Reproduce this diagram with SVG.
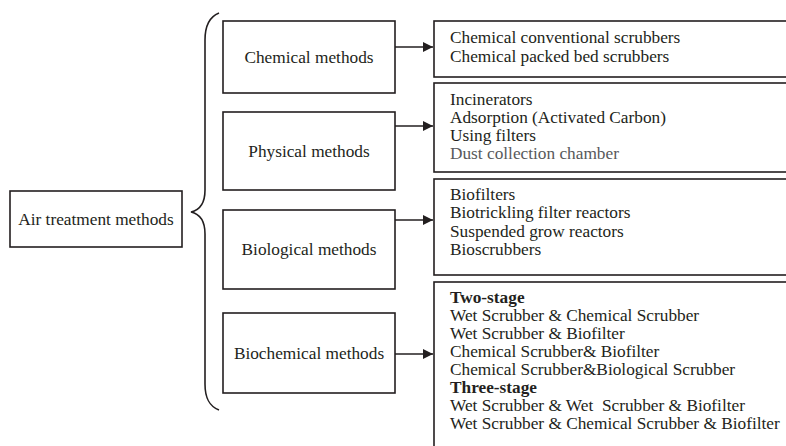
<svg xmlns="http://www.w3.org/2000/svg" width="786" height="446" viewBox="0 0 786 446">
<style>
.box{fill:#fff;stroke:#231f20;stroke-width:1.6}
.t{font-family:"Liberation Serif","Times New Roman",serif;font-size:17.3px;fill:#231f20}
.c{text-anchor:middle}
.b{font-weight:bold}
.g{fill:#58595b}
.ln{fill:none;stroke:#231f20;stroke-width:1.6}
</style>
<defs>
<marker id="ah" markerWidth="10" markerHeight="10" refX="10" refY="5" orient="auto" markerUnits="userSpaceOnUse">
<path d="M0,0 L10,5 L0,10 Z" fill="#231f20"/>
</marker>
</defs>
<rect width="786" height="446" fill="#fff"/>
<g id="connectors">
<path class="ln" d="M219,13 C209,17 205,26 205,40 L205,190 C205,203 200,210 191,212 C200,214 205,221 205,234 L205,384 C205,398 209,406 219,410"/>
<line class="ln" x1="395" y1="47" x2="433" y2="47" marker-end="url(#ah)"/>
<line class="ln" x1="395" y1="126" x2="433" y2="126" marker-end="url(#ah)"/>
<line class="ln" x1="395" y1="220" x2="433" y2="220" marker-end="url(#ah)"/>
<line class="ln" x1="395" y1="354" x2="433" y2="354" marker-end="url(#ah)"/>
</g>
<g id="air">
<rect class="box" x="10" y="191" width="172" height="56"/>
<text class="t c" x="96" y="225">Air treatment methods</text>
</g>
<g id="chemical">
<rect class="box" x="223" y="21" width="172" height="72"/>
<text class="t c" x="309" y="63">Chemical methods</text>
</g>
<g id="physical">
<rect class="box" x="223" y="112" width="172" height="78"/>
<text class="t c" x="309" y="157">Physical methods</text>
</g>
<g id="biological">
<rect class="box" x="223" y="210" width="172" height="79"/>
<text class="t c" x="309" y="255">Biological methods</text>
</g>
<g id="biochemical">
<rect class="box" x="223" y="313" width="172" height="80"/>
<text class="t c" x="309" y="359">Biochemical methods</text>
</g>
<g id="chemical-list">
<rect class="box" x="434" y="21" width="360" height="56"/>
<text class="t" x="450" y="43">Chemical conventional scrubbers</text>
<text class="t" x="450" y="61.5">Chemical packed bed scrubbers</text>
</g>
<g id="physical-list">
<rect class="box" x="434" y="83" width="360" height="89"/>
<text class="t" x="450" y="105">Incinerators</text>
<text class="t" x="450" y="123">Adsorption (Activated Carbon)</text>
<text class="t" x="450" y="141">Using filters</text>
<text class="t g" x="450" y="159">Dust collection chamber</text>
</g>
<g id="biological-list">
<rect class="box" x="434" y="179" width="360" height="96"/>
<text class="t" x="450" y="200">Biofilters</text>
<text class="t" x="450" y="218">Biotrickling filter reactors</text>
<text class="t" x="450" y="236.5">Suspended grow reactors</text>
<text class="t" x="450" y="254.5">Bioscrubbers</text>
</g>
<g id="biochemical-list">
<rect class="box" x="434" y="282" width="360" height="180"/>
<text class="t b" x="450" y="303">Two-stage</text>
<text class="t" x="450" y="321">Wet Scrubber &amp; Chemical Scrubber</text>
<text class="t" x="450" y="339">Wet Scrubber &amp; Biofilter</text>
<text class="t" x="450" y="357">Chemical Scrubber&amp; Biofilter</text>
<text class="t" x="450" y="375">Chemical Scrubber&amp;Biological Scrubber</text>
<text class="t b" x="450" y="393">Three-stage</text>
<text class="t" x="450" y="411" xml:space="preserve">Wet Scrubber &amp; Wet  Scrubber &amp; Biofilter</text>
<text class="t" x="450" y="429">Wet Scrubber &amp; Chemical Scrubber &amp; Biofilter</text>
</g>
</svg>
